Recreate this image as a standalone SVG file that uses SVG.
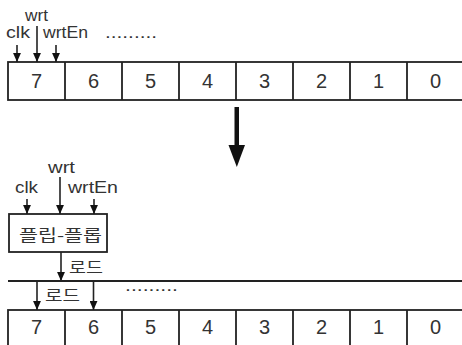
<svg xmlns="http://www.w3.org/2000/svg" width="462" height="345" viewBox="0 0 462 345">
<style>
.ln{stroke:#222;stroke-width:1.6;fill:none}
.box{stroke:#222;stroke-width:1.8;fill:#fff}
.lbl{font-family:"Liberation Sans",Arial,sans-serif;font-size:16px;fill:#333}
.dig{font-family:"Liberation Sans",Arial,sans-serif;font-size:20px;fill:#333;text-anchor:middle}
.kr{font-family:"Noto Sans CJK KR","Noto Sans",sans-serif;font-size:16px;fill:#333}
</style>
<defs>
<marker id="ah" markerUnits="userSpaceOnUse" markerWidth="9" markerHeight="8" refX="8" refY="3.5" orient="auto" viewBox="0 0 8 7">
<path d="M0,0 L8,3.5 L0,7 Z" fill="#111"/>
</marker>
</defs>

<g id="top-labels">
<text class="lbl" x="25" y="21" textLength="23" lengthAdjust="spacingAndGlyphs">wrt</text>
<text class="lbl" x="6" y="38" textLength="24" lengthAdjust="spacingAndGlyphs">clk</text>
<text class="lbl" x="43" y="38" textLength="45" lengthAdjust="spacingAndGlyphs">wrtEn</text>
<text class="lbl" x="105" y="38" textLength="52" lengthAdjust="spacingAndGlyphs">.........</text>
</g>

<g id="top-register">
<rect class="box" x="8" y="62" width="460" height="38"/>
<path class="ln" d="M65,62V100M122,62V100M179,62V100M236,62V100M293,62V100M350,62V100M407,62V100" style="stroke-width:1.8"/>
<text class="dig" x="36.5" y="87.5">7</text>
<text class="dig" x="93.5" y="87.5">6</text>
<text class="dig" x="150.5" y="87.5">5</text>
<text class="dig" x="207.5" y="87.5">4</text>
<text class="dig" x="264.5" y="87.5">3</text>
<text class="dig" x="321.5" y="87.5">2</text>
<text class="dig" x="378.5" y="87.5">1</text>
<text class="dig" x="435.5" y="87.5">0</text>
</g>

<g id="big-arrow">
<rect x="234.5" y="107" width="4.5" height="40" fill="#111"/>
<path d="M228.5,145 L245,145 L236.8,167 Z" fill="#111"/>
</g>

<g id="bottom-labels">
<text class="lbl" x="48" y="173" textLength="27" lengthAdjust="spacingAndGlyphs">wrt</text>
<text class="lbl" x="15" y="193" textLength="23" lengthAdjust="spacingAndGlyphs">clk</text>
<text class="lbl" x="68" y="193" textLength="50" lengthAdjust="spacingAndGlyphs">wrtEn</text>
</g>

<g id="flipflop">
<rect class="box" x="9" y="214" width="98" height="38"/>
<text class="kr" x="19" y="241" textLength="83" lengthAdjust="spacingAndGlyphs">플립-플롭</text>
</g>

<g id="load-labels">
<text class="kr" x="69" y="273" textLength="34" lengthAdjust="spacingAndGlyphs">로드</text>
<text class="kr" x="45" y="301" textLength="35" lengthAdjust="spacingAndGlyphs">로드</text>
<text class="lbl" x="125" y="291" textLength="53" lengthAdjust="spacingAndGlyphs">.........</text>
</g>

<g id="bottom-register">
<rect class="box" x="8" y="310" width="460" height="45"/>
<path class="ln" d="M65,310V350M122,310V350M179,310V350M236,310V350M293,310V350M350,310V350M407,310V350" style="stroke-width:1.8"/>
<text class="dig" x="36.5" y="334">7</text>
<text class="dig" x="93.5" y="334">6</text>
<text class="dig" x="150.5" y="334">5</text>
<text class="dig" x="207.5" y="334">4</text>
<text class="dig" x="264.5" y="334">3</text>
<text class="dig" x="321.5" y="334">2</text>
<text class="dig" x="378.5" y="334">1</text>
<text class="dig" x="435.5" y="334">0</text>
</g>

<g id="connectors">
<path class="ln" d="M17,45V62" marker-end="url(#ah)"/>
<path class="ln" d="M37,26V62" marker-end="url(#ah)"/>
<path class="ln" d="M56,45V62" marker-end="url(#ah)"/>
<path class="ln" d="M27,199V214" marker-end="url(#ah)"/>
<path class="ln" d="M60,177V214" marker-end="url(#ah)"/>
<path class="ln" d="M94,199V214" marker-end="url(#ah)"/>
<path class="ln" d="M61,252V281" marker-end="url(#ah)"/>
<path class="ln" d="M8,281H462" style="stroke-width:1.8"/>
<path class="ln" d="M37,281V310" marker-end="url(#ah)"/>
<path class="ln" d="M93.5,281V310" marker-end="url(#ah)"/>
</g>
</svg>
